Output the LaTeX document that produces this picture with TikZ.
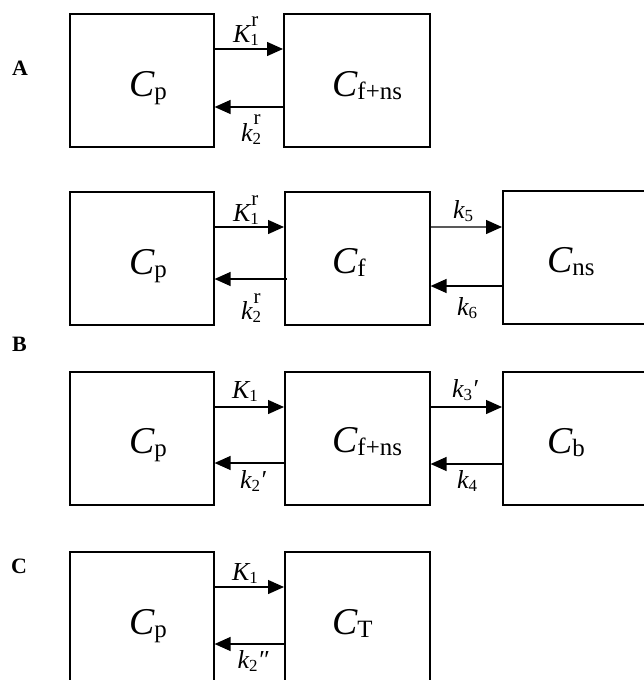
\documentclass[tikz,border=0pt]{standalone}
\usepackage{fontspec}
\setmainfont{Liberation Serif}
\usetikzlibrary{arrows.meta}

% compartment name: italic C with an upright subscript
\newcommand\comp[1]{{\fontsize{38}{38}\selectfont\itshape C}\raisebox{-3bp}{\fontsize{25}{25}\selectfont #1}}
% rate constant: italic letter, subscript and superscript stacked
\newcommand\rate[3]{{\itshape #1}\ooalign{\raisebox{-3bp}{\fontsize{17}{17}\selectfont #2}\cr\kern1bp\raisebox{16bp}{\fontsize{21}{21}\selectfont #3}\cr}}
% rate constant with primes after the subscript
\newcommand\ratep[3]{{\itshape #1}\raisebox{-3bp}{\fontsize{17}{17}\selectfont #2}{\itshape #3}}

\tikzset{
  box/.style={draw, line width=1.6bp, inner sep=0pt, anchor=north west,
    minimum width=#1, minimum height=133bp},
  box/.default=144bp,
  flow/.style={line width=1.3bp, -{Triangle[length=16bp,width=14bp]}},
  cname/.style={anchor=base west, inner sep=0pt},
  lab/.style={anchor=base, inner sep=0pt, font=\fontsize{26}{26}\selectfont},
  panel/.style={anchor=base west, inner sep=0pt, font=\fontsize{22}{22}\selectfont\bfseries}
}

\begin{document}
\begin{tikzpicture}[x=1bp, y=-1bp]
\useasboundingbox (0,0) rectangle (644,680);
\clip (0,0) rectangle (644,680);

% ---------- panel A ----------
\node[panel] (lblA) at (12,76) {A};
\node[box] (pA) at (69,13) {};
\node[box=146bp] (fA) at (283,13) {};
\node[cname] (tpA) at (129,97) {\comp{p}};
\node[cname] (tfA) at (332,97) {\comp{f+ns}};
\draw[flow] ([yshift=-36bp]pA.north east) -- ([yshift=-36bp]fA.north west);
\draw[flow] ([yshift=-94bp]fA.north west) -- ([yshift=-94bp]pA.north east);
\node[lab] (kA1) at (246,43) {\rate{K}{1}{r}};
\node[lab] (kA2) at (251,141) {\rate{k}{2}{r}};

% ---------- panel B, upper chain ----------
\node[box] (pB) at (69,191) {};
\node[box=145bp] (fB) at (284,191) {};
\node[box=170bp, minimum height=133bp] (nB) at (502,190) {};
\node[cname] (tpB) at (129,274) {\comp{p}};
\node[cname] (tfB) at (332,273) {\comp{f}};
\node[cname] (tnB) at (547,272) {\comp{ns}};
\draw[flow] ([yshift=-36bp]pB.north east) -- ([yshift=-36bp]fB.north west);
\draw[flow] ([xshift=3bp,yshift=-88bp]fB.north west) -- ([yshift=-88bp]pB.north east);
\draw[flow] ([yshift=-36bp]fB.north east) -- ([yshift=-37bp]nB.north west);
\draw[flow] ([yshift=-96bp]nB.north west) -- ([yshift=-95bp]fB.north east);
\node[lab] (kB1) at (246,221) {\rate{K}{1}{r}};
\node[lab] (kB2) at (251,319) {\rate{k}{2}{r}};
\node[lab] (kB5) at (463,218) {\ratep{k}{5}{}};
\node[lab] (kB6) at (467,315) {\ratep{k}{6}{}};

\node[panel] (lblB) at (12,351) {B};

% ---------- panel B, lower chain ----------
\node[box] (pB2) at (69,371) {};
\node[box=145bp] (fB2) at (284,371) {};
\node[box=170bp] (bB2) at (502,371) {};
\node[cname] (tpB2) at (129,453) {\comp{p}};
\node[cname] (tfB2) at (332,452) {\comp{f+ns}};
\node[cname] (tbB2) at (547,453) {\comp{b}};
\draw[flow] ([yshift=-36bp]pB2.north east) -- ([yshift=-36bp]fB2.north west);
\draw[flow] ([yshift=-92bp]fB2.north west) -- ([yshift=-92bp]pB2.north east);
\draw[flow] ([yshift=-36bp]fB2.north east) -- ([yshift=-36bp]bB2.north west);
\draw[flow] ([yshift=-93bp]bB2.north west) -- ([yshift=-93bp]fB2.north east);
\node[lab] (kB21) at (245,398) {\ratep{K}{1}{}};
\node[lab] (kB22) at (253,488) {\ratep{k}{2}{′}};
\node[lab] (kB23) at (465,397) {\ratep{k}{3}{′}};
\node[lab] (kB24) at (467,488) {\ratep{k}{4}{}};

% ---------- panel C ----------
\node[panel] (lblC) at (11,573) {C};
\node[box, minimum height=150bp] (pC) at (69,551) {};
\node[box=145bp, minimum height=150bp] (tC) at (284,551) {};
\node[cname] (tpC) at (129,634) {\comp{p}};
\node[cname] (ttC) at (332,634) {\comp{T}};
\draw[flow] ([yshift=-36bp]pC.north east) -- ([yshift=-36bp]tC.north west);
\draw[flow] ([yshift=-93bp]tC.north west) -- ([yshift=-93bp]pC.north east);
\node[lab] (kC1) at (245,580) {\ratep{K}{1}{}};
\node[lab] (kC2) at (253,668) {\ratep{k}{2}{″}};
\end{tikzpicture}
\end{document}
